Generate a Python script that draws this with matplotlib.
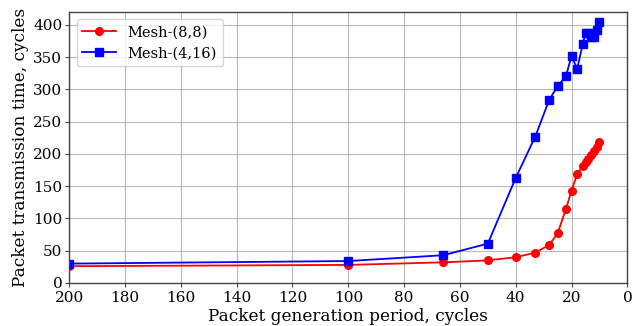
import matplotlib
matplotlib.use("Agg")
import matplotlib.pyplot as plt

# Packet generation period (cycles) and transmission time (cycles)
period = [200, 100, 66, 50, 40, 33, 28, 25, 22, 20, 18, 16, 15, 14, 13, 12, 11, 10]
mesh_8_8 = [26, 28, 32, 35, 40, 47, 59, 77, 115, 143, 169, 181, 187, 192, 199, 205, 211, 219]
mesh_4_16 = [30, 34, 43, 61, 163, 227, 284, 305, 321, 352, 332, 370, 388, 388, 381, 381, 392, 404]

plt.rcParams['font.family'] = ['DejaVu Serif']

fig, ax = plt.subplots(figsize=(6.35, 3.26), dpi=100)

ax.plot(period, mesh_8_8, color='red', marker='o', markersize=5.5, linewidth=1.3, label='Mesh-(8,8)')
ax.plot(period, mesh_4_16, color='blue', marker='s', markersize=5.5, linewidth=1.3, label='Mesh-(4,16)')

ax.set_xlim(200, 0)
ax.set_ylim(0, 420)
ax.set_xticks(range(200, -1, -20))
ax.set_yticks(range(0, 401, 50))
ax.tick_params(labelsize=11, length=3, color='#444444')
ax.tick_params(axis='y', pad=2)
ax.tick_params(axis='x', pad=3)
ax.grid(True, color='#a8a8a8', linewidth=0.8, alpha=0.8)
for s in ax.spines.values():
    s.set_color('#444444')
    s.set_linewidth(1.0)

ax.set_xlabel('Packet generation period, cycles', fontsize=12.2, labelpad=2)
ax.set_ylabel('Packet transmission time, cycles', fontsize=12.2, labelpad=3)
ax.legend(loc='upper left', fontsize=10.5, handlelength=2.3)

fig.subplots_adjust(left=0.109, right=0.988, top=0.963, bottom=0.132)
fig.savefig('out.png', dpi=100)
